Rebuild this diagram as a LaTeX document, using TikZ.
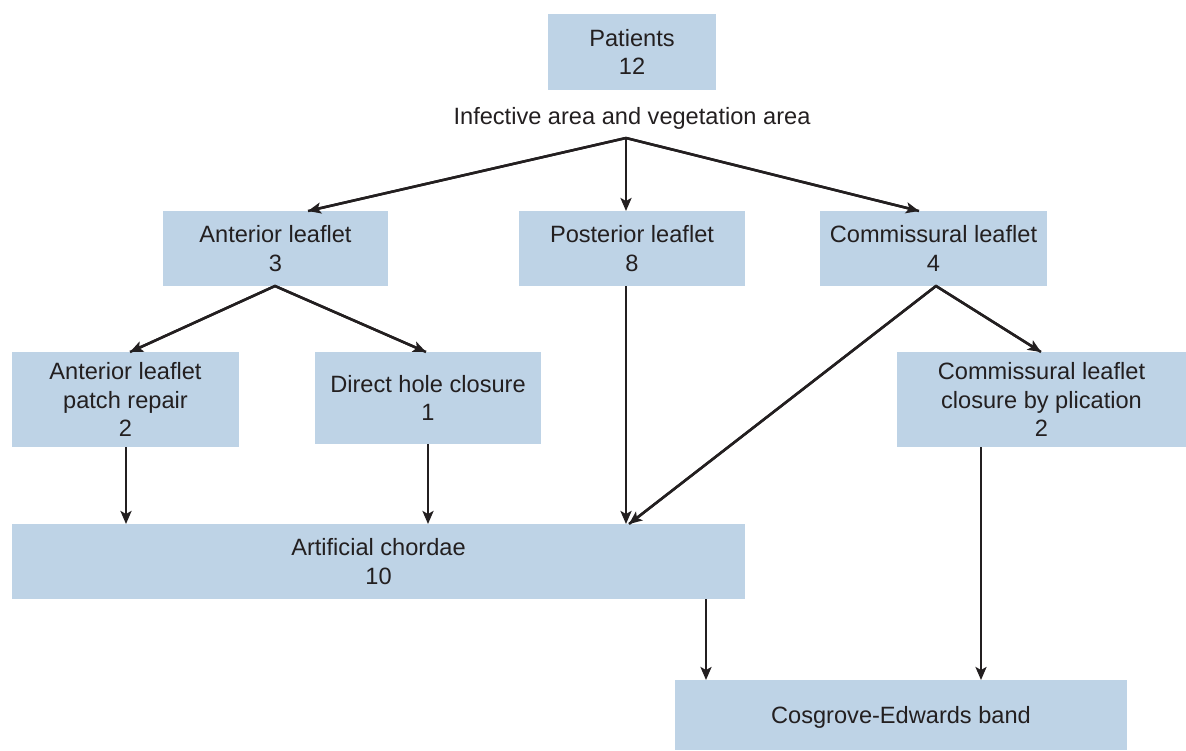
\documentclass[tikz,border=0pt]{standalone}
\usepackage{fontspec}
\setmainfont{Liberation Sans}
\usetikzlibrary{arrows.meta}
\definecolor{boxblue}{HTML}{BED3E6}
\definecolor{ink}{HTML}{231F20}
\begin{document}
\begin{tikzpicture}[x=1pt,y=-1pt,
  box/.style={rectangle,fill=boxblue,draw=none,inner sep=0pt,align=center,text=ink,
    font=\fontsize{23.6}{28.5}\selectfont},
  arr/.style={draw=ink,line width=2.5pt,-{Stealth[length=13pt,width=11pt,inset=3pt]}},
  seg/.style={draw=ink,line width=2.5pt,line join=miter}]
\useasboundingbox (0,0) rectangle (1186,750);
\node[box,minimum width=168pt,minimum height=76pt] (pat) at (632,52) {Patients\\12};
\node[text=ink,inner sep=0pt,font=\fontsize{23.6}{28.5}\selectfont] (lab) at (632,118.5) {Infective area and vegetation area};
\node[box,minimum width=225pt,minimum height=75pt] (ant) at (275.5,248.5) {Anterior leaflet\\3};
\node[box,minimum width=226pt,minimum height=75pt] (post) at (632,248.5) {Posterior leaflet\\8};
\node[box,minimum width=227pt,minimum height=75pt] (comm) at (933.5,248.5) {Commissural leaflet\\4};
\node[box,minimum width=227pt,minimum height=95pt] (patch) at (125.5,399.5) {Anterior leaflet\\patch repair\\2};
\node[box,minimum width=226pt,minimum height=92pt] (hole) at (428,398) {Direct hole closure\\1};
\node[box,minimum width=289pt,minimum height=95pt] (clos) at (1041.5,399.5) {Commissural leaflet\\closure by plication\\2};
\node[box,minimum width=733pt,minimum height=75pt] (art) at (378.5,561.5) {Artificial chordae\\10};
\node[box,minimum width=452pt,minimum height=70pt,text depth=0pt] (band) at (901,715) {Cosgrove-Edwards band};
% connector points
\coordinate (split) at (626,138);
\coordinate (antin) at (308,211);
\coordinate (postin) at (626,211);
\coordinate (commin) at (919,211);
\coordinate (antout) at (275,286);
\coordinate (patchin) at (130,352);
\coordinate (holein) at (426,352);
\coordinate (postout) at (626,286);
\coordinate (commout) at (936,286);
\coordinate (closin) at (1041,352);
\coordinate (patchout) at (126,447);
\coordinate (artinA) at (126,524);
\coordinate (holeout) at (428,444);
\coordinate (artinB) at (428,524);
\coordinate (artinC) at (626,524);
\coordinate (artinD) at (629,524);
\coordinate (artout) at (706,599);
\coordinate (bandinA) at (706,680);
\coordinate (closout) at (981,447);
\coordinate (bandinB) at (981,680);
\draw[seg] (antin) -- (split) -- (commin);
\draw[arr] (split) -- (antin);
\draw[arr] (split) -- (postin);
\draw[arr] (split) -- (commin);
\draw[seg] (patchin) -- (antout) -- (holein);
\draw[arr] (antout) -- (patchin);
\draw[arr] (antout) -- (holein);
\draw[seg] (artinD) -- (commout) -- (closin);
\draw[arr] (commout) -- (artinD);
\draw[arr] (commout) -- (closin);
\draw[arr] (postout) -- (artinC);
\draw[arr] (patchout) -- (artinA);
\draw[arr] (holeout) -- (artinB);
\draw[arr] (artout) -- (bandinA);
\draw[arr] (closout) -- (bandinB);
\end{tikzpicture}
\end{document}
